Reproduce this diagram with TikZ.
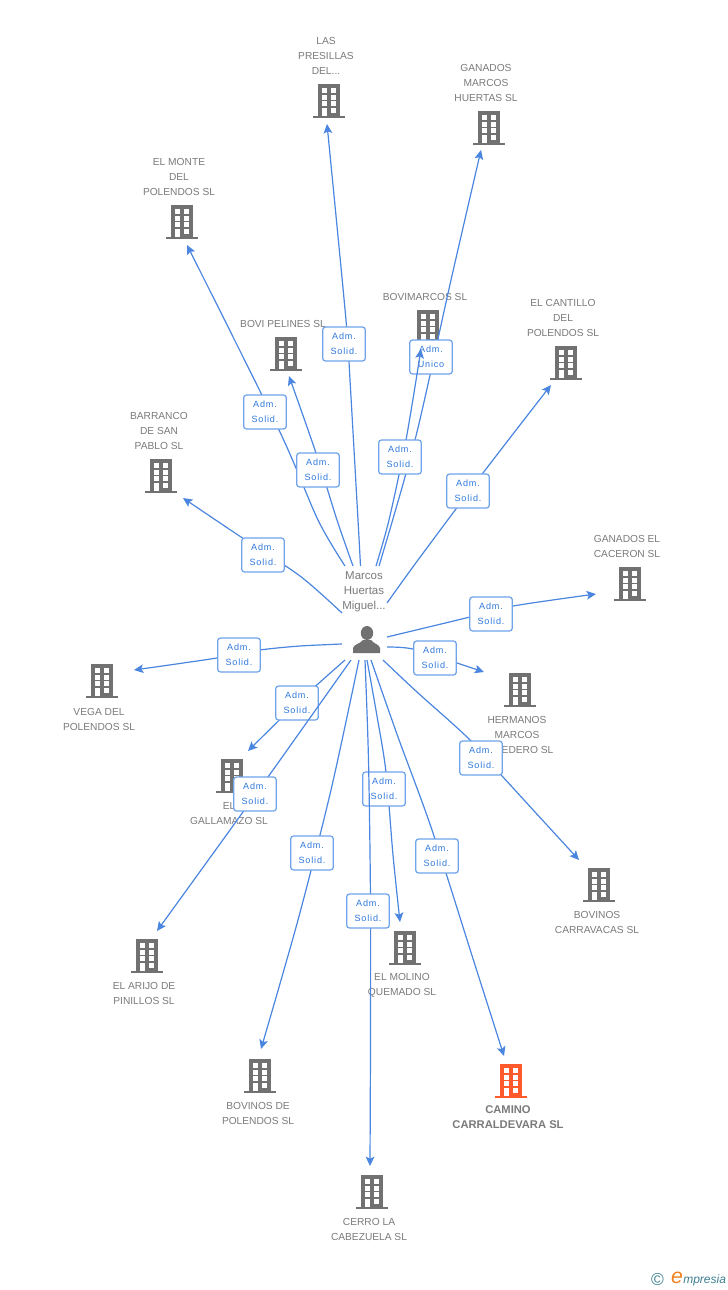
\documentclass[tikz,border=0pt]{standalone}
\usepackage{fontspec}
\setmainfont{Liberation Sans}
\newfontfamily\admfont[LetterSpace=9]{Liberation Sans}
\usetikzlibrary{arrows.meta}
\definecolor{linkblue}{HTML}{4A86E0}
\definecolor{boxblue}{HTML}{6FA3EA}
\definecolor{admblue}{HTML}{2F78DC}
\definecolor{bldggray}{HTML}{717171}
\definecolor{txtgray}{HTML}{7A7A7A}
\definecolor{bldgorange}{HTML}{FF5A2C}
\definecolor{marktel}{HTML}{3F7F93}
\definecolor{markorange}{HTML}{F08020}
\tikzset{
  link/.style={draw=linkblue,line width=0.9pt,-{Stealth[length=7pt,width=6.5pt,inset=1.5pt]}},
  admbox/.style={draw=boxblue,line width=0.95pt,fill=white,rounded corners=2.2pt,minimum width=32pt,minimum height=25.5pt,inner sep=0pt,align=center,text=admblue,execute at begin node={\rule{0pt}{6.6pt}},font=\admfont\fontsize{6.8}{11.2}\selectfont},
  nametxt/.style={align=center,text=txtgray,inner sep=0pt,font=\fontsize{7.65}{11.25}\selectfont},
  bldg/.pic={
    \fill[pic actions] (-11,-34) rectangle (11,0);
    \fill[pic actions] (-16,-2.5) rectangle (16,0);
    \foreach \wy in {-30,-23,-17} {
      \fill[white] (-7,\wy) rectangle (-2.3,\wy+5);
      \fill[white] (2.3,\wy) rectangle (7,\wy+5);
    }
    \fill[white] (-7,-10) rectangle (-2.3,-2.5);
    \fill[white] (2.3,-10) rectangle (7,-5);
  }
}
\begin{document}
\begin{tikzpicture}[x=0.75pt,y=-0.75pt]
  \useasboundingbox (0,0) rectangle (728,1290);
  % buildings
  \foreach \nm/\x/\y in {presillas/329/118,marcos/489/145,monte/182/239,pelines/286/371,bovimarcos/428/344,cantillo/566/380,barranco/161/493,caceron/630/601,hermanos/520/707,vega/102/698,gallamazo/232/793,arijo/147/973,carravacas/599/902,molino/405/965,polendos/260/1093,cerro/372/1209}
    \pic[fill=bldggray] (\nm) at (\x,\y) {bldg};
  \pic[fill=bldgorange] (camino) at (511,1098) {bldg};
  % names
  \node[nametxt] (tpresillas) at (326,56) {LAS\\PRESILLAS\\DEL...};
  \node[nametxt] (tmarcos) at (486,83) {GANADOS\\MARCOS\\HUERTAS SL};
  \node[nametxt] (tmonte) at (179,177) {EL MONTE\\DEL\\POLENDOS SL};
  \node[nametxt] (tpelines) at (283,324) {BOVI PELINES SL};
  \node[nametxt] (tbovimarcos) at (425,297) {BOVIMARCOS SL};
  \node[nametxt] (tcantillo) at (563,318) {EL CANTILLO\\DEL\\POLENDOS SL};
  \node[nametxt] (tbarranco) at (159,431) {BARRANCO\\DE SAN\\PABLO SL};
  \node[nametxt] (tcaceron) at (627,546.5) {GANADOS EL\\CACERON SL};
  \node[nametxt] (thermanos) at (517,735) {HERMANOS\\MARCOS\\CABEDERO SL};
  \node[nametxt] (tvega) at (99,719.5) {VEGA DEL\\POLENDOS SL};
  \node[nametxt] (tgallamazo) at (229,813.5) {EL\\GALLAMAZO SL};
  \node[nametxt] (tarijo) at (144,993.5) {EL ARIJO DE\\PINILLOS SL};
  \node[nametxt] (tcarravacas) at (597,922.5) {BOVINOS\\CARRAVACAS SL};
  \node[nametxt] (tmolino) at (402,985.5) {EL MOLINO\\QUEMADO SL};
  \node[nametxt] (tpolendos) at (258,1113.5) {BOVINOS DE\\POLENDOS SL};
  \node[nametxt] (tcerro) at (369,1229.5) {CERRO LA\\CABEZUELA SL};
  \node[nametxt,font=\bfseries\fontsize{8.4}{11.25}\selectfont] (tcamino) at (508,1117.5) {CAMINO\\CARRALDEVARA SL};
  \node[nametxt,font=\fontsize{8.6}{11.25}\selectfont] (tperson) at (364,592) {Marcos\\Huertas\\Miguel...};
  % person
  \fill[bldggray] (367,633) ellipse (6.2 and 7);
  \fill[bldggray] (353,653) -- (353,648) .. controls (354,644) and (360,644) .. (363,640) -- (371,640) .. controls (374,644) and (379,644) .. (380,648) -- (380,653) -- cycle;
  % connector ends
  \foreach \nm/\sx/\sy/\ex/\ey in {presillas/360.5/566/327/124,marcos/379/566/481/150,monte/345/566/187/245,pelines/353/566/289/376,bovimarcos/376/566/421/349,cantillo/387/603/551/385,barranco/342/613/183/498,caceron/387/637/596/594,hermanos/387/647/484/672,vega/342/644/134/670,gallamazo/345/660/248/751,arijo/351/660/157/931,polendos/359/660/261/1049,cerro/365/660/370/1166,molino/367/660/400/922,camino/371/660/504/1056,carravacas/383/660/579/860} {
    \coordinate (s\nm) at (\sx,\sy);
    \coordinate (e\nm) at (\ex,\ey);
  }
  % connectors with their boxes
  \draw[link] plot [smooth] coordinates {(sbarranco) (300,576) (241,537) (ebarranco)};
  \node[admbox] (boxbarranco) at (263,555) {Adm.\\Solid.};
  \draw[link] plot [smooth] coordinates {(smonte) (318,520) (279,430) (emonte)};
  \node[admbox] (boxmonte) at (265,412) {Adm.\\Solid.};
  \draw[link] plot [smooth] coordinates {(spelines) (337,520) (316,453) (epelines)};
  \node[admbox] (boxpelines) at (318,470) {Adm.\\Solid.};
  \draw[link] plot [smooth] coordinates {(spresillas) (358,520) (350,380) (346,320) (epresillas)};
  \node[admbox] (boxpresillas) at (344,344) {Adm.\\Solid.};
  \draw[link] plot [smooth] coordinates {(smarcos) (415,440) (451,280) (emarcos)};
  \node[admbox] (boxmarcos) at (431,357) {Adm.\\Unico};
  \draw[link] plot [smooth] coordinates {(sbovimarcos) (389,520) (406,440) (ebovimarcos)};
  \node[admbox] (boxbovimarcos) at (400,457) {Adm.\\Solid.};
  \draw[link] plot [smooth] coordinates {(scantillo) (418,560) (483,473) (ecantillo)};
  \node[admbox] (boxcantillo) at (468,491) {Adm.\\Solid.};
  \draw[link] plot [smooth] coordinates {(scaceron) (470,617) (513,606) (ecaceron)};
  \node[admbox] (boxcaceron) at (491,614) {Adm.\\Solid.};
  \draw[link] plot [smooth] coordinates {(shermanos) (413,649) (457,663) (ehermanos)};
  \node[admbox] (boxhermanos) at (435,658) {Adm.\\Solid.};
  \draw[link] plot [smooth] coordinates {(svega) (300,646) (260,650) (217,658) (evega)};
  \node[admbox] (boxvega) at (239,655) {Adm.\\Solid.};
  \draw[link] plot [smooth] coordinates {(sgallamazo) (297,703) (egallamazo)};
  \node[admbox] (boxgallamazo) at (297,703) {Adm.\\Solid.};
  \draw[link] plot [smooth] coordinates {(sarijo) (268,777) (230,830) (earijo)};
  \node[admbox] (boxarijo) at (255,794) {Adm.\\Solid.};
  \draw[link] plot [smooth] coordinates {(spolendos) (331,790) (298,920) (epolendos)};
  \node[admbox] (boxpolendos) at (312,853) {Adm.\\Solid.};
  \draw[link] plot [smooth] coordinates {(smolino) (377,716) (386,772) (393,855) (emolino)};
  \node[admbox] (boxmolino) at (384,789) {Adm.\\Solid.};
  \draw[link] plot [smooth] coordinates {(scerro) (368.5,760) (370.5,900) (370.5,1040) (ecerro)};
  \node[admbox] (boxcerro) at (368,911) {Adm.\\Solid.};
  \draw[link] plot [smooth] coordinates {(scamino) (398,737) (432,830) (475,965) (ecamino)};
  \node[admbox] (boxcamino) at (437,856) {Adm.\\Solid.};
  \draw[link] plot [smooth] coordinates {(scarravacas) (417,692) (468,738) (503,777) (ecarravacas)};
  \node[admbox] (boxcarravacas) at (481,758) {Adm.\\Solid.};
  % mark
  \node[inner sep=0pt,text=marktel,font=\fontsize{13}{13}\selectfont] (copymark) at (657.5,1279) {©};
  \node[inner sep=0pt,text=markorange,font=\itshape\fontsize{16}{16}\selectfont] (emark) at (677,1278) {e};
  \node[inner sep=0pt,text=marktel,anchor=base west,font=\itshape\fontsize{9}{10}\selectfont] (wordmark) at (683,1283) {mpresia};
\end{tikzpicture}
\end{document}
